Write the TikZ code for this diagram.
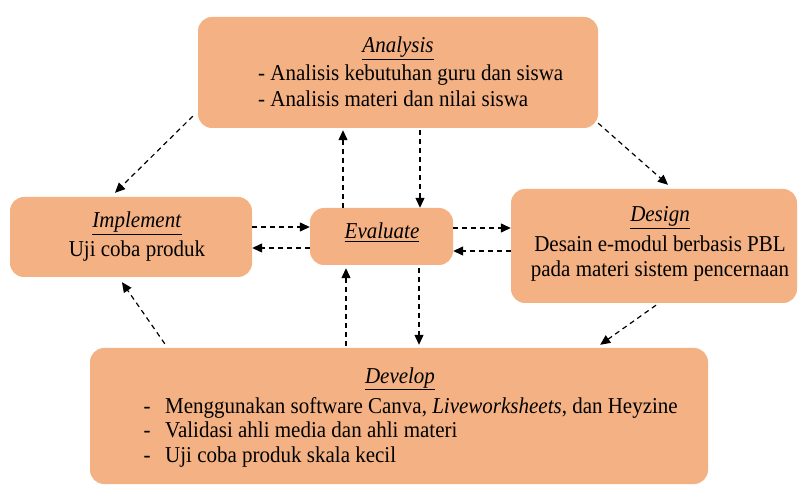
\documentclass[tikz,border=0pt]{standalone}
\usepackage{fontspec}
\setmainfont{LiberationSerif}[Extension=.ttf, UprightFont=*-Regular, ItalicFont=*-Italic, BoldFont=*-Bold, BoldItalicFont=*-BoldItalic]
\usetikzlibrary{arrows.meta,calc}
\definecolor{peach}{HTML}{F4B183}
\newcommand{\vst}[1]{\scalebox{1}[1.08]{#1}}
\begin{document}
\begin{tikzpicture}[x=1pt,y=-1pt,
  box/.style={fill=peach, draw=none, rounded corners=14pt, inner sep=0pt},
  txt/.style={font=\rmfamily\fontsize{21}{25}\selectfont, inner sep=0pt, anchor=base},
  ltxt/.style={font=\rmfamily\fontsize{21}{25}\selectfont, inner sep=0pt, anchor=base west},
  arr/.style={dash pattern=on 5pt off 4pt, line width=1.2pt, -{Triangle[length=10pt,width=9pt]}}]
\useasboundingbox (0,0) rectangle (798,486);
% boxes
\node[box, minimum width=400pt, minimum height=111pt] (ana) at (398,72.5) {};
\node[box, minimum width=242pt, minimum height=80pt] (imp) at (131,237) {};
\node[box, minimum width=143pt, minimum height=57pt] (eva) at (381.5,236.5) {};
\node[box, minimum width=286pt, minimum height=114pt] (des) at (654,246) {};
\node[box, minimum width=618pt, minimum height=136pt] (dev) at (399,416) {};
% texts
\node[txt] (anaT) at (398,53) {\vst{\underline{\textit{Analysis}}}};
\node[ltxt] (ana1) at (258,81) {\vst{- Analisis kebutuhan guru dan siswa}};
\node[ltxt] (ana2) at (258,107) {\vst{- Analisis materi dan nilai siswa}};
\node[txt] (impT) at (137,228) {\vst{\underline{\textit{Implement}}}};
\node[txt] (imp1) at (137,257) {\vst{Uji coba produk}};
\node[txt] (evaT) at (382,239) {\vst{\underline{\textit{Evaluate}}}};
\node[txt] (desT) at (660,222) {\vst{\underline{\textit{Design}}}};
\node[txt] (des1) at (660,252) {\vst{Desain e-modul berbasis PBL}};
\node[txt] (des2) at (660,277) {\vst{pada materi sistem pencernaan}};
\node[txt] (devT) at (400,383) {\vst{\underline{\textit{Develop}}}};
\node[txt] (dd1) at (147,413) {\vst{-}};
\node[txt] (dd2) at (147,437) {\vst{-}};
\node[txt] (dd3) at (147,462) {\vst{-}};
\node[ltxt] (dev1) at (165,413) {\vst{Menggunakan software Canva, \textit{Liveworksheets}, dan Heyzine}};
\node[ltxt] (dev2) at (165,437) {\vst{Validasi ahli media dan ahli materi}};
\node[ltxt] (dev3) at (165,462) {\vst{Uji coba produk skala kecil}};
% connectors
\draw[arr] ($(ana.south west)+(-5,-12)$) -- ($(imp.north)+(-16,-4)$);
\draw[arr] ($(ana.south east)+(0,-5)$) -- ($(des.north)+(14,-4)$);
\draw[arr] ($(eva.north)+(-38.5,0)$) -- ($(ana.south)+(-55,2)$);
\draw[arr] ($(ana.south)+(22,2)$) -- ($(eva.north)+(38.5,0)$);
\draw[arr] ($(imp.east)+(0,-10)$) -- ($(eva.west)+(0,-9.5)$);
\draw[arr] ($(eva.west)+(0,11.5)$) -- ($(imp.east)+(0,11)$);
\draw[arr] ($(eva.east)+(0,-8.5)$) -- ($(des.west)+(0,-18)$);
\draw[arr] ($(des.west)+(0,5)$) -- ($(eva.east)+(0,14.5)$);
\draw[arr] ($(dev.north west)+(75,-4)$) -- ($(imp.south)+(-9,5)$);
\draw[arr] ($(dev.north)+(-53,-2)$) -- ($(eva.south)+(-35.5,3)$);
\draw[arr] ($(eva.south)+(37.5,3)$) -- ($(dev.north)+(20,-3)$);
\draw[arr] ($(des.south)+(2,2)$) -- ($(dev.north east)+(-108,-3)$);
\end{tikzpicture}
\end{document}
